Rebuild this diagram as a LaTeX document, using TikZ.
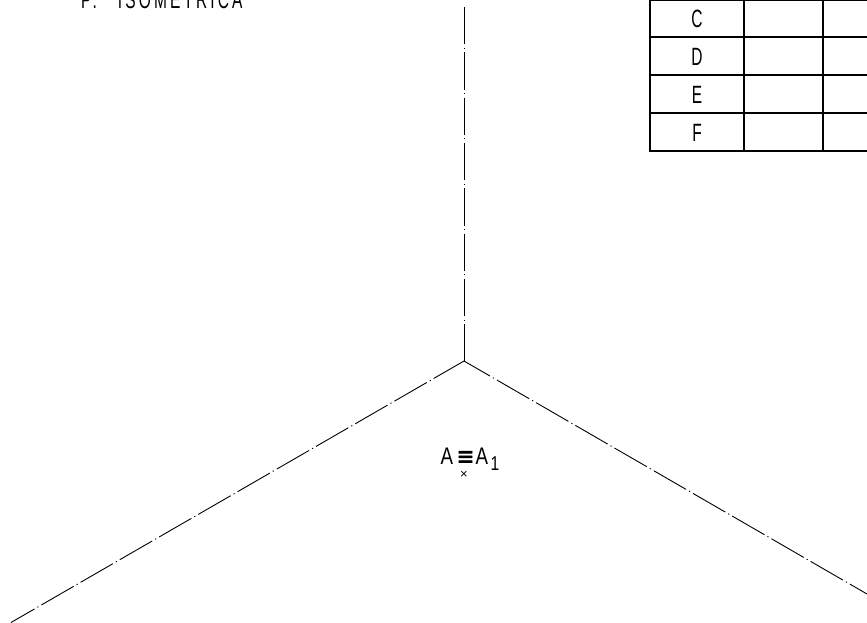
\documentclass[tikz,border=0pt]{standalone}
\usepackage{fontspec}
\setmainfont{Liberation Sans}
\newfontfamily\isofont[FakeStretch=0.62]{Liberation Sans}
\newfontfamily\labelfont[FakeStretch=0.78]{Liberation Sans}
\newfontfamily\eqfont[FakeBold=2.5]{Liberation Sans}
\tikzset{
  axisline/.style={line width=0.9pt,black,dash pattern=on 37.3pt off 3.4pt on 1.2pt off 3.4pt},
  tablegrid/.style={line width=2pt,black,line cap=rect},
  rowlabel/.style={inner sep=0pt,anchor=base,font=\isofont\fontsize{25}{25}\selectfont},
  plainlabel/.style={inner sep=0pt,anchor=base west,font=\labelfont\fontsize{24}{24}\selectfont}
}
\begin{document}
\begin{tikzpicture}[x=1pt,y=-1pt]
\useasboundingbox (0,0) rectangle (867,623);
\clip (0,0) rectangle (867,623);
% axes
\coordinate (O) at (464,361);
\coordinate (T) at (464,7);
\coordinate (L) at (11,622.5);
\coordinate (R) at (867,594);
\draw[axisline] (T) -- (O);
\draw[axisline,dash phase=2.3pt] (O) -- (L);
\draw[axisline,dash phase=7.3pt] (O) -- (R);
% table
\draw[tablegrid] (650,0) -- (650,151) -- (867,151);
\draw[tablegrid] (744.3,0) -- (744.3,151);
\draw[tablegrid] (823,0) -- (823,151);
\draw[tablegrid] (650,0.3) -- (867,0.3);
\draw[tablegrid] (650,37.5) -- (867,37.5);
\draw[tablegrid] (650,75.3) -- (867,75.3);
\draw[tablegrid] (650,113) -- (867,113);
% row labels
\node[rowlabel] (c) at (697,28) {C};
\node[rowlabel] (d) at (697,66) {D};
\node[rowlabel] (e) at (697,104) {E};
\node[rowlabel] (f) at (697,141.5) {F};
% title
\node[inner sep=0pt,anchor=base west,font=\isofont\fontsize{25}{25}\selectfont] (title) at (81,9) {\addfontfeature{LetterSpace=12.5}P.\hspace{21pt}ISOMETRICA};
% point label
\node[plainlabel] (a) at (440.5,464) {A};
\node[inner sep=0pt,font=\eqfont\fontsize{27}{27}\selectfont] (eq) at (465.5,458.5) {≡};
\node[plainlabel] (a1) at (475.5,464) {A};
\node[inner sep=0pt,anchor=base west,font=\labelfont\fontsize{20}{20}\selectfont] (one) at (490.5,470.7) {1};
\node[inner sep=0pt,font=\fontsize{13}{13}\selectfont] (x) at (464,475) {×};
\end{tikzpicture}
\end{document}
